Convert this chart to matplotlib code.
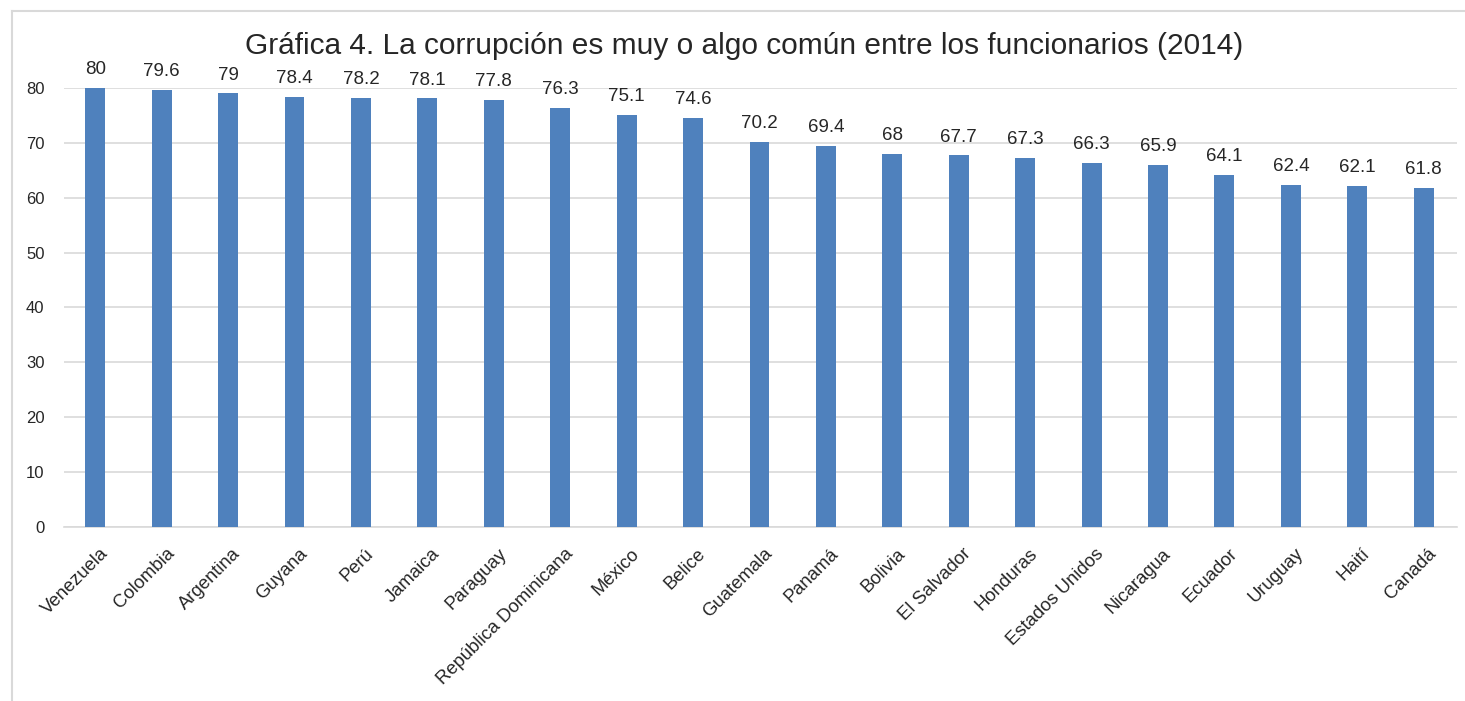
import matplotlib.pyplot as plt
from matplotlib.lines import Line2D
from matplotlib.transforms import ScaledTranslation

paises = ['Venezuela', 'Colombia', 'Argentina', 'Guyana', 'Perú', 'Jamaica',
          'Paraguay', 'República Dominicana', 'México', 'Belice', 'Guatemala',
          'Panamá', 'Bolivia', 'El Salvador', 'Honduras', 'Estados Unidos',
          'Nicaragua', 'Ecuador', 'Uruguay', 'Haití', 'Canadá']
valores = [80, 79.6, 79, 78.4, 78.2, 78.1, 77.8, 76.3, 75.1, 74.6, 70.2,
           69.4, 68, 67.7, 67.3, 66.3, 65.9, 64.1, 62.4, 62.1, 61.8]
y_ticks = [0, 10, 20, 30, 40, 50, 60, 70, 80]

plt.rcParams['font.family'] = ['Liberation Sans', 'DejaVu Sans']

fig = plt.figure(figsize=(14.65, 7.01), dpi=100)
ax = fig.add_axes([0.0437, 0.2482, 0.9508, 0.6263])

x = range(len(paises))
ax.bar(x, valores, width=0.3, color='#4F81BD', zorder=3)
for i, v in zip(x, valores):
    ax.text(i, v + 1.8, f'{v:g}', ha='center', va='bottom', fontsize=13.5, color='#262626')

ax.set_xlim(-0.47, len(paises) - 0.5)
ax.set_ylim(0, 80)
ax.set_yticks(y_ticks)
ax.yaxis.grid(True, color='#D9D9D9', linewidth=1.2, zorder=0)
ax.set_xticks(list(x))
ax.set_xticklabels(paises, rotation=45, ha='right', rotation_mode='anchor',
                   fontsize=13.3, color='#262626')
ax.tick_params(axis='y', length=0, labelsize=12, labelcolor='#262626', pad=14)
ax.tick_params(axis='x', length=0, pad=13)
desplaz = ScaledTranslation(0.04, 0, fig.dpi_scale_trans)
for etiqueta in ax.get_xticklabels():
    etiqueta.set_transform(etiqueta.get_transform() + desplaz)
for s in ['top', 'right', 'left']:
    ax.spines[s].set_visible(False)
ax.spines['bottom'].set_color('#D9D9D9')
ax.spines['bottom'].set_linewidth(1.2)

fig.text(0.508, 0.935, 'Gráfica 4. La corrupción es muy o algo común entre los funcionarios (2014)',
         ha='center', va='center', fontsize=21.5, color='#262626')

# marco del gráfico
fig.add_artist(Line2D([0.0082, 1.0], [0.984, 0.984], color='#D9D9D9', linewidth=1.5))
fig.add_artist(Line2D([0.0082, 0.0082], [0.0, 0.984], color='#D9D9D9', linewidth=1.5))

fig.savefig('out.png', dpi=100)
